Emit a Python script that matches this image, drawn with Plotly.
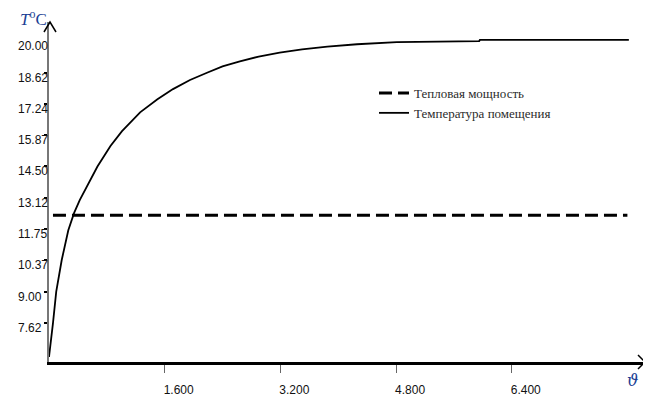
import plotly.graph_objects as go

# ---- data ----
time_vals = [0, 0.03, 0.055, 0.10, 0.176, 0.267, 0.346, 0.425, 0.52, 0.67, 0.85,
             1.01, 1.26, 1.5, 1.715, 1.95, 2.185, 2.4, 2.64, 2.9, 3.19, 3.5, 3.85,
             4.26, 4.81, 5.95, 5.96, 8.02]
temp_vals = [6.13, 6.87, 7.62, 9.0, 10.39, 11.7, 12.45, 13.02, 13.6, 14.5, 15.4,
             16.05, 16.88, 17.45, 17.9, 18.3, 18.62, 18.9, 19.12, 19.33, 19.5, 19.65, 19.77,
             19.87, 19.96, 20.01, 20.06, 20.06]
power_x = [0.055, 8.0]
power_y = [12.36, 12.36]

y_tick_vals = [7.62, 9.00, 10.37, 11.75, 13.12, 14.50, 15.87, 17.24, 18.62, 20.00]
y_tick_text = ["7.62", "9.00", "10.37", "11.75", "13.12", "14.50", "15.87", "17.24", "18.62", "20.00"]
x_tick_vals = [1.6, 3.2, 4.8, 6.4]
x_tick_text = ["1.600", "3.200", "4.800", "6.400"]

series_names = ["Тепловая мощность", "Температура помещения"]

OFF = 8  # page body margin
W, H = 651 - OFF, 399 - OFF
# plot area in screen pixels: x 49..645, y 22..362
SX0, SX1, SY0, SY1 = 49, 645, 22, 362
L, T = SX0 - OFF, SY0 - OFF
R, B = W - (SX1 - OFF), H - (SY1 - OFF)
PW, PH = SX1 - SX0, SY1 - SY0

tick_font = dict(family="Liberation Sans Narrow, Arial Narrow, Liberation Sans, Arial, sans-serif",
                 size=12, color="#111111")
serif = "Liberation Serif, Times New Roman, serif"

fig = go.Figure()
fig.add_trace(go.Scatter(x=power_x, y=power_y, mode="lines", name=series_names[0],
                         line=dict(color="black", width=3, dash="13px,6px")))
fig.add_trace(go.Scatter(x=time_vals, y=temp_vals, mode="lines", name=series_names[1],
                         line=dict(color="black", width=1.8)))

def px(sx):
    return (sx - SX0) / PW

def py(sy):
    return (SY1 - sy) / PH

annotations = []
for v, t in zip(y_tick_vals, y_tick_text):
    annotations.append(dict(x=px(16), xref="paper", y=v, yref="y", text=t, showarrow=False,
                            xanchor="left", yanchor="middle", yshift=-5, font=tick_font))
annotations.append(dict(x=px(33), y=py(18), xref="paper", yref="paper",
                        text="<i>T</i><sup>o</sup>C", showarrow=False,
                        xanchor="center", yanchor="middle",
                        font=dict(family=serif, size=17, color="#1c3f94")))
annotations.append(dict(x=px(632), y=py(380), xref="paper", yref="paper",
                        text="<i>ϑ</i>", showarrow=False,
                        xanchor="center", yanchor="middle",
                        font=dict(family="DejaVu Serif, serif", size=16, color="#1c3f94")))

shapes = [
    # y-axis arrow head
    dict(type="path", xref="paper", yref="paper",
         path=f"M {px(44)} {py(32)} L {px(50)} {py(22)} L {px(56)} {py(32)}",
         line=dict(color="black", width=1.5)),
    # x-axis arrow head
    dict(type="path", xref="paper", yref="paper",
         path=f"M {px(638)} {py(355)} L {px(645)} {py(362)} L {px(638)} {py(369)}",
         line=dict(color="black", width=1.5)),
]

fig.update_layout(
    width=W, height=H,
    margin=dict(l=L, r=R, t=T, b=B, pad=0, autoexpand=False),
    paper_bgcolor="white", plot_bgcolor="white",
    showlegend=True,
    legend=dict(x=px(374), y=py(78), xanchor="left", yanchor="top",
                bgcolor="rgba(0,0,0,0)", font=dict(family=serif, size=13, color="#2b2b2b"),
                itemwidth=30, tracegroupgap=0),
    xaxis=dict(range=[0, PW / 72.3], showgrid=False, zeroline=False, automargin=False,
               showline=True, linecolor="black", linewidth=3,
               tickvals=x_tick_vals, ticktext=x_tick_text, ticks="outside", ticklen=8,
               tickwidth=1, tickcolor="#666666", tickfont=tick_font,
               ticklabelshift=14, ticklabelstandoff=7),
    yaxis=dict(range=[5.91, 5.91 + PH / 22.76], showgrid=False, zeroline=False, automargin=False,
               showline=True, linecolor="#777777", linewidth=2,
               tickvals=y_tick_vals[:-1], ticks="outside", ticklen=3, tickwidth=2,
               tickcolor="black", showticklabels=False),
    annotations=annotations,
    shapes=shapes,
)

fig.write_html("out.html")
